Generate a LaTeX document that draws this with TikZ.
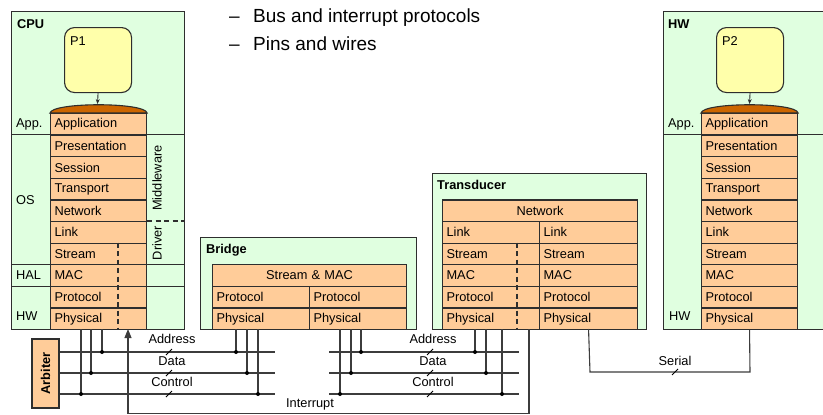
\documentclass[tikz,border=0pt]{standalone}
\usepackage{fontspec}
\setmainfont{Liberation Sans}
\usetikzlibrary{arrows.meta}

\definecolor{boxgreen}{HTML}{E0FFE0}
\definecolor{layerorange}{HTML}{FFCC99}
\definecolor{capbrown}{HTML}{CC6600}
\definecolor{procyellow}{HTML}{FFFFAA}
\definecolor{edgecol}{HTML}{2E2E2E}
\definecolor{wirecol}{HTML}{3C3C3C}

\begin{document}
\begin{tikzpicture}[x=1pt,y=-1pt,
  every node/.style={font=\fontsize{12.8}{14}\selectfont},
  unit/.style={draw=edgecol, fill=boxgreen, line width=1.2pt, anchor=north west, inner sep=0pt},
  layer/.style={draw=edgecol, fill=layerorange, line width=1.1pt, anchor=north west,
    minimum height=21.6pt, inner ysep=0pt, inner xsep=4pt, text width=#1, align=left},
  layer/.default=88pt,
  wideLayer/.style={draw=edgecol, fill=layerorange, line width=1.1pt, anchor=north west,
    minimum height=21.6pt, inner ysep=0pt, inner xsep=0pt, text width=#1, align=center},
  proc/.style={draw=edgecol, fill=procyellow, line width=1.1pt, rounded corners=10pt,
    anchor=north west, minimum width=67pt, minimum height=65pt, inner sep=0pt},
  plain/.style={anchor=west, inner sep=0pt},
  title/.style={anchor=west, inner sep=0pt, font=\fontsize{12.8}{14}\selectfont\bfseries},
  bullet/.style={anchor=base west, inner sep=0pt, font=\fontsize{19}{22}\selectfont},
  divider/.style={draw=edgecol, line width=1.1pt},
  splitline/.style={draw=edgecol, line width=1.1pt, dash pattern=on 5pt off 3.5pt},
  wire/.style={draw=wirecol, line width=1.1pt},
  dot/.style={fill=black},
  busmark/.style={draw=black, line width=0.8pt},
]
\useasboundingbox (0,0) rectangle (823,415);

% ---------------- CPU ----------------
\node[unit, minimum width=173pt, minimum height=318pt] (cpu) at (11,11) {};
\node[title] (cpuT) at (17,24) {CPU};
\foreach \t [count=\i from 0] in {Application,Presentation,Session,Transport,Network,Link,Stream,MAC,Protocol,Physical}
  \node[layer] (cpuL\i) at (50,{113+21.6*\i}) {\t};
\draw[divider] (cpu.west |- cpuL1.north) -- (cpu.east |- cpuL1.north);
\draw[divider] (cpu.west |- cpuL7.north) -- (cpu.east |- cpuL7.north);
\draw[divider] (cpu.west |- cpuL7.south) -- (cpu.east |- cpuL7.south);
\draw[splitline] (cpuL5.north east) -- (cpu.east |- cpuL5.north);
\draw[splitline] (118,242.6) -- (118,329);
\node[plain] (cpuApp) at (16,124) {App.};
\node[plain] (cpuOS) at (16,200) {OS};
\node[plain] (cpuHAL) at (16,275) {HAL};
\node[plain] (cpuHW) at (16,316) {HW};
\node[rotate=90, inner sep=0pt] (mw) at (157,178) {Middleware};
\node[rotate=90, inner sep=0pt] (drv) at (157,243) {Driver};
% application cap
\draw[draw=edgecol, fill=capbrown, line width=1.1pt]
  (cpuL0.north west) .. controls +(2,-11) and +(-2,-11) .. (cpuL0.north east) -- cycle;
\node[proc] (p1) at (64,27) {};
\node[plain] (p1T) at (70,41) {P1};
\coordinate (cap1) at (97.5,104);
\draw[edgecol, line width=0.9pt, -{Stealth[length=5pt,width=4pt]}] (p1.south) -- (cap1);

% ---------------- HW ----------------
\node[unit, minimum width=159.5pt, minimum height=318pt] (hw) at (663,11) {};
\node[title] (hwT) at (668,24) {HW};
\foreach \t [count=\i from 0] in {Application,Presentation,Session,Transport,Network,Link,Stream,MAC,Protocol,Physical}
  \node[layer] (hwL\i) at (701,{113+21.6*\i}) {\t};
\draw[divider] (hw.west |- hwL1.north) -- (hw.east |- hwL1.north);
\node[plain] (hwApp) at (668,124) {App.};
\node[plain] (hwHW) at (669,316) {HW};
\draw[draw=edgecol, fill=capbrown, line width=1.1pt]
  (hwL0.north west) .. controls +(2,-11) and +(-2,-11) .. (hwL0.north east) -- cycle;
\node[proc] (p2) at (716,27) {};
\node[plain] (p2T) at (722,41) {P2};
\coordinate (cap2) at (749.5,104);
\draw[edgecol, line width=0.9pt, -{Stealth[length=5pt,width=4pt]}] (p2.south) -- (cap2);

% ---------------- Bridge ----------------
\node[unit, minimum width=216pt, minimum height=92pt] (br) at (200,237) {};
\node[title] (brT) at (206,250) {Bridge};
\node[wideLayer=194pt] (brSM) at (212,264.2) {Stream \& MAC};
\node[layer=89pt] (brP1) at (212,285.8) {Protocol};
\node[layer=89pt] (brP2) at (309,285.8) {Protocol};
\node[layer=89pt] (brY1) at (212,307.4) {Physical};
\node[layer=89pt] (brY2) at (309,307.4) {Physical};

% ---------------- Transducer ----------------
\node[unit, minimum width=214pt, minimum height=156pt] (tr) at (432,173) {};
\node[title] (trT) at (437,185) {Transducer};
\node[wideLayer=195pt] (trNet) at (442,199.4) {Network};
\foreach \t [count=\i from 0] in {Link,Stream,MAC,Protocol,Physical}{
  \node[layer=89pt] (trA\i) at (442,{221+21.6*\i}) {\t};
  \node[layer=90pt] (trB\i) at (539,{221+21.6*\i}) {\t};
}
\draw[splitline] (517,242.6) -- (517,329);

% ---------------- Arbiter and buses ----------------
\node[draw=edgecol, fill=layerorange, line width=1.2pt, minimum width=27pt, minimum height=69pt,
  inner sep=0pt] (arb) at (45.5,373.5) {\rotatebox{90}{\bfseries Arbiter}};

% bus segment next to the CPU
\coordinate (addrW) at (arb.east |- 0,352);
\coordinate (dataW) at (arb.east |- 0,373);
\coordinate (ctrlW) at (arb.east |- 0,394);
\draw[wire] (addrW) -- (275,352);
\draw[wire] (dataW) -- (275,373);
\draw[wire] (ctrlW) -- (275,394);
% bus segment next to the transducer
\draw[wire] (329,352) -- (519,352);
\draw[wire] (329,373) -- (519,373);
\draw[wire] (329,394) -- (519,394);

% drops from the CPU
\draw[wire] (81,329) -- (81,394);   \fill[dot] (81,394) circle (2pt);
\draw[wire] (91,329) -- (91,373);   \fill[dot] (91,373) circle (2pt);
\draw[wire] (102,329) -- (102,352); \fill[dot] (102,352) circle (2pt);
% drops from the bridge, left side
\draw[wire] (236,329) -- (236,352); \fill[dot] (236,352) circle (2pt);
\draw[wire] (247,329) -- (247,373); \fill[dot] (247,373) circle (2pt);
\draw[wire] (258,329) -- (258,394); \fill[dot] (258,394) circle (2pt);
% drops from the bridge, right side
\draw[wire] (340,329) -- (340,394); \fill[dot] (340,394) circle (2pt);
\draw[wire] (351,329) -- (351,373); \fill[dot] (351,373) circle (2pt);
\draw[wire] (361,329) -- (361,352); \fill[dot] (361,352) circle (2pt);
% drops from the transducer
\draw[wire] (475,329) -- (475,352); \fill[dot] (475,352) circle (2pt);
\draw[wire] (486,329) -- (486,373); \fill[dot] (486,373) circle (2pt);
\draw[wire] (502,329) -- (502,394); \fill[dot] (502,394) circle (2pt);

% bus labels and width marks
\foreach \x in {172,433}{
  \node[inner sep=0pt] at (\x,339) {Address};
  \node[inner sep=0pt] at (\x,361) {Data};
  \node[inner sep=0pt] at (\x,382) {Control};
}
\foreach \x in {169,430}{
  \foreach \y in {352,373,394}
    \draw[busmark] (\x-3,\y+3) -- (\x+3,\y-3);
}

% interrupt line from the transducer to the CPU
\draw[wire, -{Stealth[length=9pt,width=7pt,inset=0pt]}] (529,329) -- (529,413.5) -- (128,413.5) -- (128,329);
\node[inner sep=0pt] (intT) at (310,404) {Interrupt};

% serial link between transducer and HW
\draw[wire] (trB4.south |- 0,329) -- (590,372) -- (750,372) -- (hwL9.south);
\node[inner sep=0pt] (serT) at (675,361) {Serial};
\draw[busmark] (672,375) -- (678,369);

% ---------------- bullets ----------------
\node[bullet] (d1) at (229,22.5) {–};
\node[bullet] (b1) at (253,22.5) {Bus and interrupt protocols};
\node[bullet] (d2) at (229,50.5) {–};
\node[bullet] (b2) at (253,50.5) {Pins and wires};
\end{tikzpicture}
\end{document}
